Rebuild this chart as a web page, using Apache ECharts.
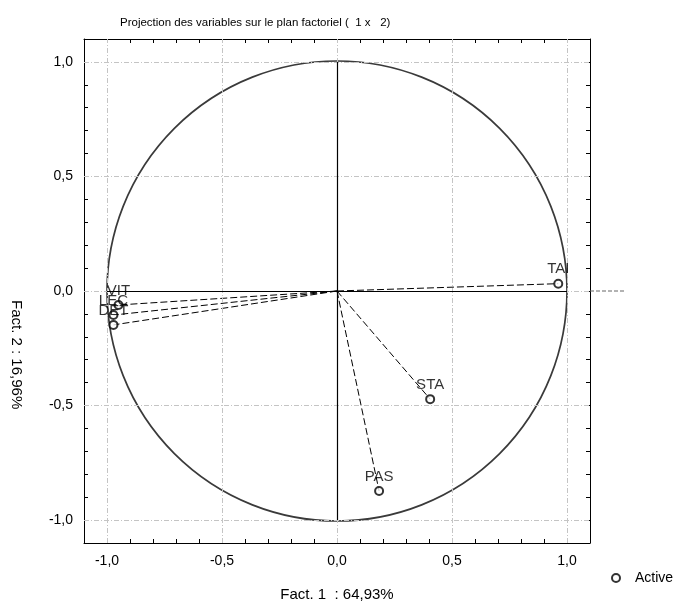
<!DOCTYPE html>
<html>
<head>
<meta charset="utf-8">
<script src="https://cdn.jsdelivr.net/npm/echarts@6/dist/echarts.min.js"></script>
<style>
  html, body { margin: 0; padding: 0; background: #fff; }
  #chart { width: 682px; height: 607px; }
</style>
</head>
<body>
<div id="chart"></div>
<script>
// Variable coordinates on factors 1 and 2 (correlation circle)
const varNames = ['TAI', 'STA', 'PAS', 'VIT', 'LEC', 'DET'];
const fact1 = [0.962, 0.405, 0.183, -0.950, -0.972, -0.972];
const fact2 = [0.032, -0.472, -0.873, -0.061, -0.105, -0.148];

// Axis layout values
const axisMin = -1.1;
const axisMax = 1.1;
const tickStep = 0.1;
const gridTicks = [-1, -0.5, 0, 0.5, 1];
const extensionEnd = 1.255;

const FONT = 'Liberation Sans, Arial, Helvetica, sans-serif';

function tickLabel(v) {
  const h = Math.round(v * 2);
  if (Math.abs(v * 2 - h) > 1e-6 || Math.abs(v) > 1.05) return '';
  return (h / 2 === 0 ? 0 : h / 2).toFixed(1).replace('.', ',');
}

function frameAxis(position, showLabels, extra) {
  return Object.assign({
    type: 'value',
    min: axisMin,
    max: axisMax,
    interval: tickStep,
    position: position,
    axisLine: { onZero: false, lineStyle: { color: '#000', width: 1 } },
    axisTick: { inside: true, length: 4, lineStyle: { color: '#000', width: 1 } },
    axisLabel: showLabels
      ? { formatter: tickLabel, color: '#000', fontSize: 14, fontFamily: FONT, margin: 11 }
      : { show: false },
    splitLine: { show: false }
  }, extra || {});
}

const chart = echarts.init(document.getElementById('chart'));

const option = {
  animation: false,
  backgroundColor: '#fff',
  textStyle: { fontFamily: FONT },
  title: {
    text: 'Projection des variables sur le plan factoriel (  1 x   2)',
    left: 115,
    top: 12,
    textStyle: { fontSize: 11.5, fontWeight: 'normal', color: '#000', fontFamily: FONT }
  },
  grid: { left: 84, right: 92, top: 39, bottom: 62 },
  legend: {
    data: [{ name: 'Active', icon: 'emptyCircle' }],
    left: 606,
    top: 566,
    itemWidth: 28,
    itemHeight: 8,
    textStyle: { fontSize: 14, color: '#000', fontFamily: FONT }
  },
  xAxis: [
    frameAxis('bottom', true, {
      name: 'Fact. 1  : 64,93%',
      nameLocation: 'middle',
      nameGap: 44,
      nameTextStyle: { fontSize: 15, color: '#000', fontFamily: FONT }
    }),
    frameAxis('top', false)
  ],
  yAxis: [
    frameAxis('left', true),
    frameAxis('right', false)
  ],
  graphic: [{
    type: 'text',
    left: 9,
    top: 300,
    rotation: -Math.PI / 2,
    style: { text: 'Fact. 2 : 16,96%', font: '15px ' + FONT, fill: '#000' }
  }],
  series: [
    // dashed reference grid at the major ticks
    {
      type: 'line',
      data: [],
      silent: true,
      z: 1,
      markLine: {
        silent: true,
        symbol: 'none',
        label: { show: false },
        lineStyle: { color: '#c4c4c4', type: [5, 2, 1, 2], width: 1 },
        data: gridTicks.map(v => ({ xAxis: v })).concat(gridTicks.map(v => ({ yAxis: v })))
      }
    },
    // factor axes through the origin
    {
      type: 'line',
      data: [],
      silent: true,
      z: 3,
      markLine: {
        silent: true,
        symbol: 'none',
        label: { show: false },
        lineStyle: { color: '#000', type: 'solid', width: 1.2 },
        data: [
          [{ coord: [-1, 0] }, { coord: [1, 0] }],
          [{ coord: [0, -1] }, { coord: [0, 1] }]
        ]
      }
    },
    // horizontal zero line continuing past the frame
    {
      type: 'custom',
      silent: true,
      clip: false,
      z: 2,
      data: [[axisMax, 0, extensionEnd]],
      renderItem: function (params, api) {
        const a = api.coord([api.value(0), api.value(1)]);
        const b = api.coord([api.value(2), api.value(1)]);
        return {
          type: 'line',
          shape: { x1: a[0], y1: a[1], x2: b[0], y2: b[1] },
          style: { stroke: '#666', lineWidth: 1, lineDash: [4, 2] }
        };
      }
    },
    // unit correlation circle
    {
      type: 'custom',
      silent: true,
      z: 2,
      data: [[0, 0, 1]],
      renderItem: function (params, api) {
        const c = api.coord([api.value(0), api.value(1)]);
        const e = api.coord([api.value(0) + api.value(2), api.value(1)]);
        return {
          type: 'circle',
          shape: { cx: c[0], cy: c[1], r: e[0] - c[0] },
          style: { fill: 'none', stroke: '#3a3a3a', lineWidth: 1.7 }
        };
      }
    },
    // rays from the origin to each variable
    {
      type: 'lines',
      coordinateSystem: 'cartesian2d',
      silent: true,
      z: 4,
      lineStyle: { color: '#000', width: 1, type: [7, 3], opacity: 1 },
      data: fact1.map((x, i) => ({ coords: [[0, 0], [x, fact2[i]]] }))
    },
    // variable points
    {
      type: 'scatter',
      name: 'Active',
      z: 5,
      symbol: 'emptyCircle',
      symbolSize: 8,
      itemStyle: { color: '#000', borderColor: '#000', borderWidth: 1.2 },
      label: {
        show: true,
        position: 'top',
        distance: 2,
        formatter: '{b}',
        color: '#000',
        fontSize: 15,
        fontFamily: FONT
      },
      data: fact1.map((x, i) => ({ name: varNames[i], value: [x, fact2[i]] }))
    }
  ]
};

chart.setOption(option);
</script>
</body>
</html>
